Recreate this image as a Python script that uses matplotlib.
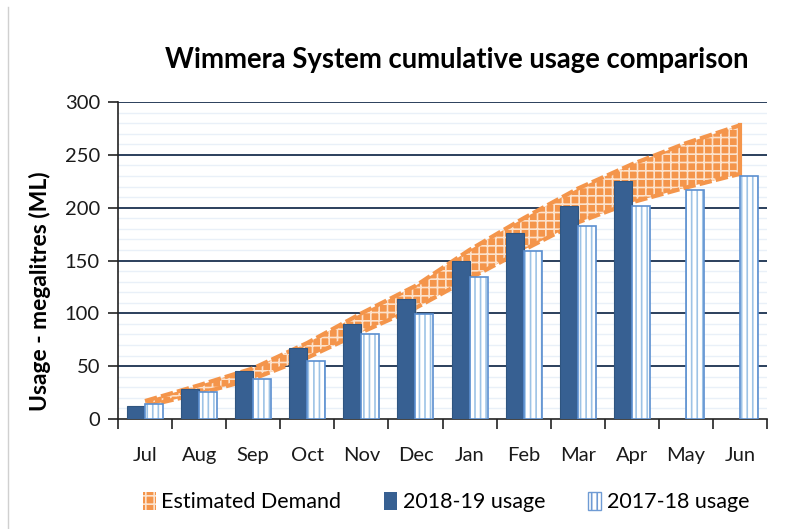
import numpy as np
import matplotlib
matplotlib.use("Agg")
import matplotlib.pyplot as plt
from matplotlib.patches import Patch

plt.rcParams['font.family'] = ['Lato', 'DejaVu Sans']
plt.rcParams['hatch.linewidth'] = 1.2

months = ['Jul', 'Aug', 'Sep', 'Oct', 'Nov', 'Dec', 'Jan', 'Feb', 'Mar', 'Apr', 'May', 'Jun']
usage_1819 = [12, 28, 45, 67, 90, 114, 150, 176, 202, 225, np.nan, np.nan]
usage_1718 = [14, 26, 38, 55, 80, 99, 134, 159, 183, 202, 217, 230]
demand_low = [12, 24, 38, 58, 82, 105, 133, 160, 186, 205, 219, 232]
demand_high = [17, 32, 48, 72, 100, 126, 160, 190, 218, 241, 261, 278]

x = np.arange(len(months))
w = 1 / 3
orange = '#F4954B'

fig = plt.figure(figsize=(8.05, 5.29), dpi=100)
ax = fig.add_axes([118 / 805, 1 - 419 / 529, 649 / 805, 317 / 529])

# gridlines
for v in range(10, 300, 10):
    if v % 50:
        ax.axhline(v, color='#E9F0F8', lw=1, zorder=0)
for v in range(50, 301, 50):
    ax.axhline(v, color='#2B3F5C', lw=1.4, zorder=1)

# estimated demand band
ax.fill_between(x, demand_low, demand_high, facecolor=orange, edgecolor='#FCE2CC',
                hatch='++', linewidth=0, zorder=2)
ax.plot(x, demand_high, color=orange, lw=3, ls=(0, (3, 1)), zorder=2)
ax.plot(x, demand_low, color=orange, lw=3, ls=(0, (3, 1)), zorder=2)
ax.plot([x[-1], x[-1]], [demand_low[-1], demand_high[-1]], color=orange, lw=3, zorder=2)

# bars (with a faint shadow behind the dark ones)
ax.bar(x - w / 2 + 0.02, usage_1819, width=w, color='#B8B8B8', alpha=0.5, lw=0, zorder=2.5)
ax.bar(x - w / 2, usage_1819, width=w, color='#376092', edgecolor='#2F5580', lw=0.8, zorder=3)
ax.bar(x + w / 2, usage_1718, width=w, facecolor='white', edgecolor='#9DC3E6',
       hatch='|||', lw=0, zorder=3)
ax.bar(x + w / 2, usage_1718, width=w, fill=False, edgecolor='#5B8FD0', lw=1.2, zorder=3)

ax.set_xlim(-0.5, 11.5)
ax.set_ylim(0, 300)
ax.set_yticks(range(0, 301, 50))
ax.set_xticks(x)
ax.set_xticklabels(months)
ax.set_xticks(np.arange(-0.5, 12, 1), minor=True)
ax.tick_params(axis='x', which='major', length=0, labelsize=14.5, pad=20, colors='#1a1a1a')
ax.tick_params(axis='x', which='minor', length=7, width=1.2, color='#222222')
ax.tick_params(axis='y', length=7, width=1.2, labelsize=14.5, pad=6, color='#222222', labelcolor='#1a1a1a')

for s in ['top', 'right']:
    ax.spines[s].set_visible(False)
ax.spines['left'].set_color('#222222')
ax.spines['left'].set_linewidth(1.2)
ax.spines['bottom'].set_color('#222222')
ax.spines['bottom'].set_linewidth(1.2)

fig.text(457 / 805, 1 - 60 / 529, 'Wimmera System cumulative usage comparison',
         ha='center', va='center', fontsize=19.8, fontweight='bold')
fig.text(40 / 805, 1 - 291 / 529, 'Usage - megalitres (ML)', rotation=90,
         ha='center', va='center', fontsize=16.5, fontweight='bold')

# left border
fig.add_artist(plt.Line2D([8 / 805, 8 / 805], [0, 1 - 7 / 529], color='#D0D0D0', lw=1))

handles = [Patch(facecolor=orange, edgecolor='#FCE2CC', hatch='++', lw=0),
           Patch(facecolor='#376092'),
           Patch(facecolor='white', edgecolor='#6F9BD4', hatch='|||')]
labels = ['Estimated Demand', '2018-19 usage', '2017-18 usage']
fig.legend(handles, labels, loc='center', bbox_to_anchor=(446 / 805, 1 - 502 / 529), ncol=3,
           frameon=False, fontsize=15.5, handlelength=0.6, handleheight=0.9,
           handletextpad=0.25, columnspacing=2.0)

fig.savefig('out.png', dpi=100)
